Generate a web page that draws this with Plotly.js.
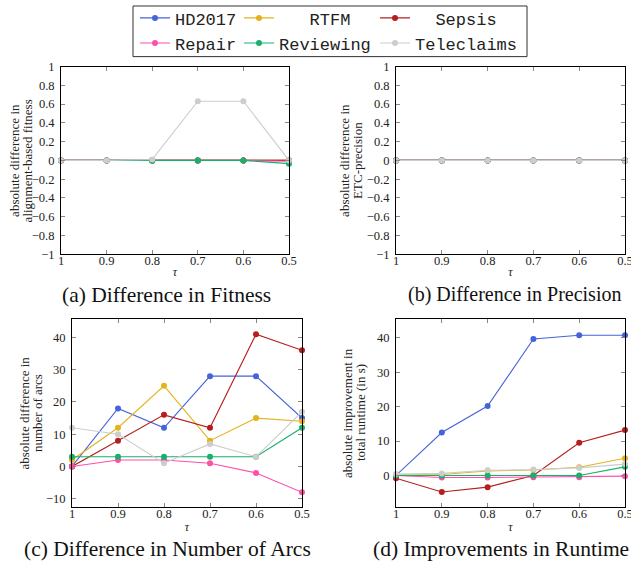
<!DOCTYPE html>
<html><head><meta charset="utf-8">
<script src="https://cdn.plot.ly/plotly-3.0.1.min.js"></script>
<style>html,body{margin:0;padding:0;background:#fff}#chart{width:631px;height:565px}</style>
</head><body><div id="chart"></div>
<script>
// ---- data ----
const tau = [1, 0.9, 0.8, 0.7, 0.6, 0.5];
const tauLabels = ['1', '0.9', '0.8', '0.7', '0.6', '0.5'];
const seriesNames = ['HD2017', 'RTFM', 'Sepsis', 'Repair', 'Reviewing', 'Teleclaims'];

// (a) difference in alignment-based fitness
const fitnessHD2017     = [0, 0, 0, 0, 0, 0];
const fitnessRTFM       = [0, 0, 0, 0, 0, 0];
const fitnessSepsis     = [0, 0, 0, 0, 0, 0];
const fitnessRepair     = [0, 0, 0, 0, 0, -0.01];
const fitnessReviewing  = [0, 0, -0.005, 0, 0, -0.035];
const fitnessTeleclaims = [0, 0, 0.01, 0.63, 0.63, 0];

// (b) difference in ETC-precision
const precisionHD2017     = [0, 0, 0, 0, 0, 0];
const precisionRTFM       = [0, 0, 0, 0, 0, 0];
const precisionSepsis     = [0, 0, 0, 0, 0, 0];
const precisionRepair     = [0, 0, 0, 0, 0, 0];
const precisionReviewing  = [0, 0, 0, 0, 0, 0];
const precisionTeleclaims = [0, 0, 0, 0, 0, 0];

// (c) difference in number of arcs
const arcsHD2017     = [0, 18, 12, 28, 28, 15];
const arcsRTFM       = [2, 12, 25, 8, 15, 14];
const arcsSepsis     = [0, 8, 16, 12, 41, 36];
const arcsRepair     = [0, 2, 2, 1, -2, -8];
const arcsReviewing  = [3, 3, 3, 3, 3, 12];
const arcsTeleclaims = [12, 10, 1, 7, 3, 17];

// (d) improvement in total runtime (s)
const runtimeHD2017     = [0, 12.5, 20.2, 39.7, 40.8, 40.8];
const runtimeRTFM       = [0.2, 0.3, 1.3, 1.6, 2.4, 5.0];
const runtimeSepsis     = [-0.8, -4.8, -3.4, 0, 9.5, 13.2];
const runtimeRepair     = [0, -0.6, -0.6, -0.5, -0.5, -0.2];
const runtimeReviewing  = [0, -0.1, 0, 0, 0, 2.5];
const runtimeTeleclaims = [0.4, 0.6, 1.5, 1.7, 2.2, 3.3];

// axis titles (two lines each) and captions
const yTitleA = ['absolute difference in', 'alignment-based fitness'];
const yTitleB = ['absolute difference in', 'ETC-precision'];
const yTitleC = ['absolute difference in', 'number of arcs'];
const yTitleD = ['absolute improvement in', 'total runtime (in s)'];
const captionA = '(a) Difference in Fitness';
const captionB = '(b) Difference in Precision';
const captionC = '(c) Difference in Number of Arcs';
const captionD = '(d) Improvements in Runtime';

// ---- styling ----
const colors = {
  HD2017: '#4563dc', RTFM: '#e4b31a', Sepsis: '#b61e1e',
  Repair: '#ff4fab', Reviewing: '#16b16b', Teleclaims: '#cdcdcd'
};
const legendOf = {
  HD2017: 'legend', Repair: 'legend',
  RTFM: 'legend2', Reviewing: 'legend2',
  Sepsis: 'legend3', Teleclaims: 'legend3'
};
const nb = '\u00a0';
const displayName = {
  HD2017: 'HD2017', RTFM: nb + nb + nb + 'RTFM', Sepsis: nb + nb + 'Sepsis',
  Repair: 'Repair', Reviewing: 'Reviewing', Teleclaims: 'Teleclaims'
};

const panels = [
  {xa: 'x',  ya: 'y',  data: [fitnessHD2017, fitnessRTFM, fitnessSepsis, fitnessRepair, fitnessReviewing, fitnessTeleclaims], legend: true},
  {xa: 'x2', ya: 'y2', data: [precisionHD2017, precisionRTFM, precisionSepsis, precisionRepair, precisionReviewing, precisionTeleclaims], legend: false},
  {xa: 'x3', ya: 'y3', data: [arcsHD2017, arcsRTFM, arcsSepsis, arcsRepair, arcsReviewing, arcsTeleclaims], legend: false},
  {xa: 'x4', ya: 'y4', data: [runtimeHD2017, runtimeRTFM, runtimeSepsis, runtimeRepair, runtimeReviewing, runtimeTeleclaims], legend: false}
];

const traces = [];
panels.forEach(p => {
  seriesNames.forEach((s, i) => {
    traces.push({
      type: 'scatter', mode: 'lines+markers',
      x: tau, y: p.data[i], xaxis: p.xa, yaxis: p.ya,
      name: displayName[s], legend: legendOf[s], showlegend: p.legend,
      line: {color: colors[s], width: 1.1},
      marker: {color: colors[s], size: 6},
      cliponaxis: false, hoverinfo: 'x+y+name'
    });
  });
});

const W = 631, H = 565;
const px = v => v / W;
const py = v => 1 - v / H;

const tickFont = {family: 'Liberation Serif', size: 12.5, color: '#222'};

function xax(l, r, anchor, standoff) {
  return {
    domain: [px(l), px(r)], anchor: anchor,
    range: [1, 0.5], autorange: false,
    tickmode: 'array', tickvals: tau, ticktext: tauLabels,
    ticks: 'inside', ticklen: 4, tickwidth: 1, tickcolor: '#888',
    showline: true, linecolor: '#000', linewidth: 1, mirror: 'ticks',
    showgrid: false, zeroline: false,
    tickfont: tickFont, ticklabelstandoff: -5, ticklabeloverflow: 'allow',
    title: {text: '<i>τ</i>', font: {family: 'Liberation Serif', size: 12, color: '#222'}, standoff: standoff}
  };
}
function yax(t, b, anchor, range, dtick) {
  return {
    domain: [py(b), py(t)], anchor: anchor,
    range: range, autorange: false, dtick: dtick, tick0: 0,
    ticks: 'inside', ticklen: 4, tickwidth: 1, tickcolor: '#888',
    showline: true, linecolor: '#000', linewidth: 1, mirror: 'ticks',
    showgrid: false, zeroline: false,
    tickfont: tickFont, ticklabelstandoff: 3, ticklabeloverflow: 'allow'
  };
}

const legendBase = {
  xanchor: 'left', y: 1.0065, yanchor: 'top', orientation: 'v',
  bgcolor: 'rgba(0,0,0,0)', borderwidth: 0,
  font: {family: 'Liberation Mono', size: 17, color: '#222'},
  itemwidth: 30, tracegroupgap: 0, traceorder: 'normal'
};

const captionFont = {family: 'Liberation Serif', size: 21.5, color: '#111'};
const yTitleFont = {family: 'Liberation Serif', size: 13, color: '#222'};

const captions = [
  {text: captionA, x: px(166), y: py(293), font: captionFont},
  {text: captionB, x: px(514), y: py(293), font: Object.assign({}, captionFont, {size: 20})},
  {text: captionC, x: px(167), y: py(549), font: captionFont},
  {text: captionD, x: px(501), y: py(549), font: captionFont}
].map(a => Object.assign(a, {xref: 'paper', yref: 'paper', xanchor: 'center', yanchor: 'middle', showarrow: false}));

// each y title line placed at its own x (px), centred vertically on the panel
const yTitleSpecs = [
  {lines: yTitleA, xs: [15, 27.5],  yc: 158},
  {lines: yTitleB, xs: [345, 358],  yc: 158},
  {lines: yTitleC, xs: [24.5, 37],  yc: 412},
  {lines: yTitleD, xs: [347, 360],  yc: 412}
];
const yTitles = [];
yTitleSpecs.forEach(s => {
  s.lines.forEach((t, k) => {
    yTitles.push({
      text: t, x: px(s.xs[k]), y: py(s.yc),
      xref: 'paper', yref: 'paper', xanchor: 'center', yanchor: 'middle',
      textangle: -90, showarrow: false, font: yTitleFont
    });
  });
});

const layout = {
  width: W, height: H,
  margin: {l: 0, r: 0, t: 0, b: 0},
  paper_bgcolor: '#fff', plot_bgcolor: '#fff',
  font: {family: 'Liberation Serif', color: '#222'},
  showlegend: true,
  legend:  Object.assign({}, legendBase, {x: px(135)}),
  legend2: Object.assign({}, legendBase, {x: px(239)}),
  legend3: Object.assign({}, legendBase, {x: px(375)}),
  xaxis:  xax(61, 289, 'y', 0),
  yaxis:  yax(63, 252, 'x', [-1, 1], 0.2),
  xaxis2: xax(396, 625, 'y2', 0),
  yaxis2: yax(63, 252, 'x2', [-1, 1], 0.2),
  xaxis3: xax(72, 302, 'y3', 2),
  yaxis3: yax(317, 507, 'x3', [-12.7, 45.8], 10),
  xaxis4: xax(396, 625, 'y4', 2),
  yaxis4: yax(317, 507, 'x4', [-9.3, 45.6], 10),
  shapes: [{
    type: 'rect', xref: 'paper', yref: 'paper',
    x0: px(133), x1: px(527), y0: py(53), y1: py(2),
    line: {color: '#333', width: 1}, fillcolor: 'rgba(0,0,0,0)'
  }],
  annotations: captions.concat(yTitles)
};

Plotly.newPlot('chart', traces, layout, {displayModeBar: false, staticPlot: true});
</script>
</body></html>
